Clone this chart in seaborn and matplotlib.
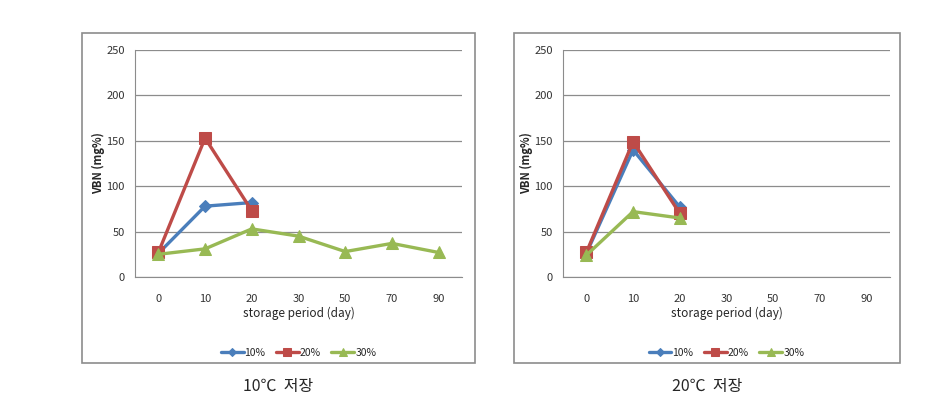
import pandas as pd
import matplotlib
matplotlib.use("Agg")
import matplotlib.pyplot as plt
import seaborn as sns
from matplotlib.patches import Rectangle

days = ["0", "10", "20", "30", "50", "70", "90"]
series = ["10%", "20%", "30%"]

# 10℃ storage
t10_10 = [26, 78, 82]
t10_20 = [27, 153, 73]
t10_30 = [25, 31, 53, 45, 28, 37, 27]

# 20℃ storage
t20_10 = [26, 140, 77]
t20_20 = [27, 149, 70]
t20_30 = [24, 72, 65]

captions = ["10℃  저장", "20℃  저장"]

colors = {"10%": "#4A7EBB", "20%": "#BE4B48", "30%": "#98B954"}
markers = {"10%": "D", "20%": "s", "30%": "^"}
msizes = {"10%": 6, "20%": 8, "30%": 8}


def to_long(vals_by_series):
    rows = []
    for s, vals in zip(series, vals_by_series):
        for i, v in enumerate(vals):
            rows.append({"pos": i, "day": days[i], "VBN": v, "conc": s})
    return pd.DataFrame(rows)


sns.set_style("white")
plt.rcParams["font.family"] = ["Noto Sans CJK KR", "DejaVu Sans"]

fig = plt.figure(figsize=(9.37, 4.12), dpi=100)
W, H = 937, 412

panels = [
    (to_long([t10_10, t10_20, t10_30]), (135, 462), (82, 475)),
    (to_long([t20_10, t20_20, t20_30]), (563, 890), (514, 900)),
]

for k, (df, (x0, x1), (b0, b1)) in enumerate(panels):
    # chart border
    fig.patches.append(Rectangle((b0 / W, 1 - 363 / H), (b1 - b0) / W, (363 - 33) / H,
                                 transform=fig.transFigure, fill=False,
                                 edgecolor="#8c8c8c", linewidth=1.2))
    ax = fig.add_axes([x0 / W, 1 - 277 / H, (x1 - x0) / W, (277 - 50) / H])
    for s in series:
        d = df[df["conc"] == s]
        sns.lineplot(data=d, x="pos", y="VBN", ax=ax, color=colors[s], linewidth=2.4,
                     marker=markers[s], markersize=msizes[s], markeredgecolor=colors[s],
                     label=s, legend=False)
    ax.set_xlim(-0.5, len(days) - 0.5)
    ax.set_ylim(0, 250)
    ax.set_yticks(range(0, 251, 50))
    ax.set_xticks(range(len(days)))
    ax.set_xticklabels(days)
    ax.set_xticks([i - 0.5 for i in range(len(days) + 1)], minor=True)
    ax.tick_params(axis="x", which="major", length=0, labelsize=8, pad=12, colors="#333333")
    ax.tick_params(axis="x", which="minor", length=5, color="#8c8c8c", direction="out")
    ax.tick_params(axis="y", length=4, direction="out", labelsize=8, colors="#333333")
    ax.tick_params(axis="y", which="major", color="#8c8c8c")
    ax.yaxis.grid(True, color="#8c8c8c", linewidth=0.9)
    ax.set_axisbelow(True)
    for sp in ["top", "right"]:
        ax.spines[sp].set_visible(False)
    for sp in ["left", "bottom"]:
        ax.spines[sp].set_color("#8c8c8c")
    ax.set_xlabel("storage period (day)", fontsize=8.5, labelpad=2)
    ax.set_ylabel("VBN (mg%)", fontsize=8, fontweight="bold", labelpad=1)
    handles, labels = ax.get_legend_handles_labels()
    ax.legend(handles, labels, loc="upper center", bbox_to_anchor=(0.5, -0.27), ncol=3,
              frameon=False, fontsize=7.5, handlelength=2.2, handletextpad=0.1,
              columnspacing=1.0, markerscale=0.7)
    cx = (b0 + b1) / 2 / W
    fig.text(cx, 1 - 387 / H, captions[k], ha="center", va="center", fontsize=11.5)

fig.savefig("out.png", dpi=100)
